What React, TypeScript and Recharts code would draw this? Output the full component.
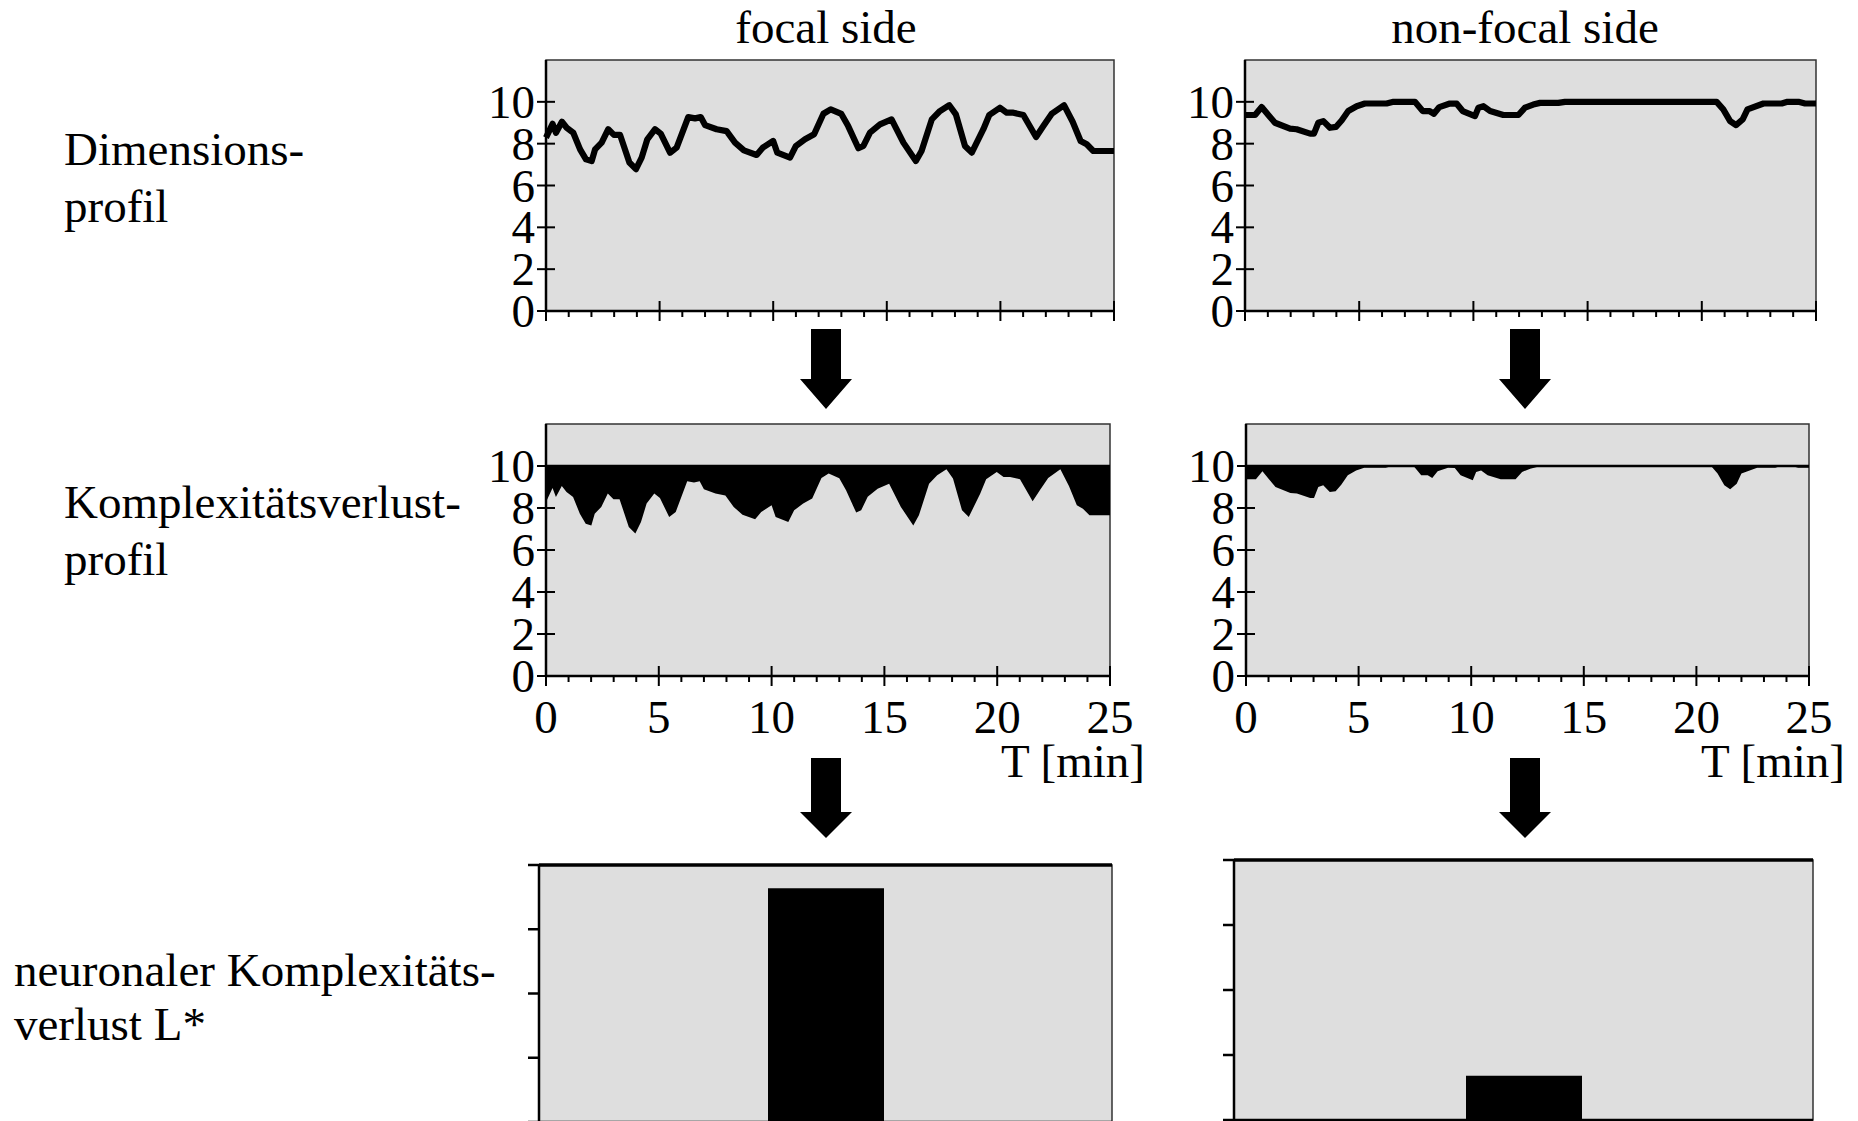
import React from 'react';
import {
  LineChart, Line, AreaChart, Area, BarChart, Bar, XAxis, YAxis,
  CartesianGrid, ReferenceLine, ReferenceArea,
} from 'recharts';

// ---------- data ----------
const focalT = [0, 0.29, 0.44, 0.70, 0.91, 1.20, 1.50, 1.76, 2.01, 2.16, 2.45, 2.74, 2.99, 3.26, 3.67, 3.96, 4.21, 4.46, 4.80, 5.05, 5.46, 5.75, 6.26, 6.56, 6.81, 7.00, 7.51, 7.95, 8.32, 8.71, 9.27, 9.54, 10.00, 10.18, 10.74, 11.00, 11.40, 11.80, 12.21, 12.53, 13.00, 13.30, 13.75, 13.97, 14.26, 14.70, 15.21, 15.73, 16.28, 16.53, 16.98, 17.34, 17.75, 18.04, 18.44, 18.74, 19.25, 19.51, 19.98, 20.28, 20.57, 21.01, 21.57, 21.89, 22.26, 22.80, 23.18, 23.53, 23.80, 24.09, 25.0];
const focalV = [8.29, 8.95, 8.52, 9.05, 8.76, 8.52, 7.73, 7.25, 7.17, 7.73, 8.05, 8.69, 8.42, 8.42, 7.10, 6.78, 7.33, 8.21, 8.69, 8.48, 7.57, 7.81, 9.27, 9.21, 9.27, 8.89, 8.69, 8.60, 8.05, 7.68, 7.46, 7.81, 8.13, 7.57, 7.33, 7.89, 8.21, 8.45, 9.43, 9.64, 9.42, 8.84, 7.78, 7.89, 8.53, 8.92, 9.16, 8.05, 7.17, 7.65, 9.16, 9.56, 9.84, 9.40, 7.89, 7.57, 8.69, 9.37, 9.72, 9.48, 9.48, 9.37, 8.32, 8.84, 9.43, 9.84, 9.05, 8.13, 7.97, 7.65, 7.65];

const nonFocalT = [0, 0.44, 0.73, 1.02, 1.31, 1.97, 2.26, 2.85, 3.02, 3.21, 3.43, 3.72, 3.98, 4.23, 4.52, 4.89, 5.25, 6.20, 6.50, 7.44, 7.78, 8.07, 8.27, 8.51, 8.97, 9.27, 9.53, 10.07, 10.22, 10.44, 10.73, 11.31, 11.97, 12.26, 12.62, 12.92, 13.72, 14.01, 20.65, 20.94, 21.24, 21.50, 21.79, 22.00, 22.70, 23.50, 23.75, 24.23, 24.52, 25.0];
const nonFocalV = [9.37, 9.37, 9.75, 9.37, 9.00, 8.72, 8.69, 8.48, 8.48, 9.00, 9.08, 8.76, 8.80, 9.11, 9.56, 9.79, 9.92, 9.92, 10, 10, 9.56, 9.56, 9.43, 9.75, 9.92, 9.91, 9.56, 9.32, 9.72, 9.79, 9.56, 9.37, 9.37, 9.72, 9.87, 9.95, 9.95, 10, 10, 9.64, 9.08, 8.89, 9.16, 9.64, 9.92, 9.92, 10, 10, 9.92, 9.92];

const maxDimension = 10;
const yTicks = [0, 2, 4, 6, 8, 10];
const minuteTicks = [0, 1, 2, 3, 4, 5, 6, 7, 8, 9, 10, 11, 12, 13, 14, 15, 16, 17, 18, 19, 20, 21, 22, 23, 24, 25];

const lossCategory = ['L*'];
const lossFocal = [3.64];
const lossNonFocal = [0.68];
const lossTicks = [0, 1, 2, 3, 4];

const columnTitles = ['focal side', 'non-focal side'];
const rowLabels = [['Dimensions-', 'profil'], ['Komplexitätsverlust-', 'profil'], ['neuronaler Komplexitäts-', 'verlust L*']];
const timeLabel = 'T [min]';

// ---------- styling ----------
const FONT = '"Liberation Serif", "Times New Roman", serif';
const FS = 47;
const PANEL_BG = '#dedede';
const BORDER = '#333333';
const YW = 100;
const MT = 10;
const MR = 50;
const XH = 80;

const profileData = (ts: number[], vs: number[]) =>
  ts.map((t, i) => ({ t, v: vs[i], range: [vs[i], maxDimension] }));

const focalData = profileData(focalT, focalV);
const nonFocalData = profileData(nonFocalT, nonFocalV);

const YTick = (props: any) => {
  const { x, y, payload } = props;
  const ax = x + 10;
  return (
    <g>
      <line x1={ax - 9} x2={ax + 9} y1={y} y2={y} stroke="#000" strokeWidth={2} />
      <text x={ax - 11} y={y + 16} textAnchor="end" fontFamily={FONT} fontSize={FS} fill="#000">
        {payload.value}
      </text>
    </g>
  );
};

const makeXTick = (showLabels: boolean) => (props: any) => {
  const { x, y, payload } = props;
  const ay = y - 12;
  const major = payload.value % 5 === 0;
  return (
    <g>
      {major ? (
        <line x1={x} x2={x} y1={ay - 10} y2={ay + 10} stroke="#000" strokeWidth={2} />
      ) : (
        <line x1={x} x2={x} y1={ay} y2={ay + 6} stroke="#000" strokeWidth={2} />
      )}
      {showLabels && major && (
        <text x={x} y={ay + 57} textAnchor="middle" fontFamily={FONT} fontSize={FS} fill="#000">
          {payload.value}
        </text>
      )}
    </g>
  );
};

const BarYTick = (props: any) => {
  const { x, y } = props;
  const ax = x + 13;
  return <line x1={ax - 11} x2={ax} y1={y} y2={y} stroke="#000" strokeWidth={2.5} />;
};

type Plot = { l: number; t: number; r: number; b: number };

const ProfileChart = ({ data, plot, mode }: { data: any[]; plot: Plot; mode: 'line' | 'loss' }) => {
  const w = YW + (plot.r - plot.l) + MR;
  const h = MT + (plot.b - plot.t) + XH;
  const common = { width: w, height: h, data, margin: { top: MT, right: MR, left: 0, bottom: 0 } };
  const inner = [
    <CartesianGrid key="g" fill={PANEL_BG} fillOpacity={1} horizontal={false} vertical={false} stroke="none" />,
    <ReferenceArea key="ra" x1={0} x2={25} y1={0} y2={12} fill="none" stroke={BORDER} strokeWidth={1.5} ifOverflow="visible" />,
    <XAxis key="x" dataKey="t" type="number" domain={[0, 25]} ticks={minuteTicks} interval={0}
      tickSize={10} tickMargin={2} tickLine={false} height={XH}
      axisLine={{ stroke: '#000', strokeWidth: 2.5 }} tick={makeXTick(mode === 'loss')} />,
    <YAxis key="y" type="number" domain={[0, 12]} ticks={yTicks} interval={0} width={YW}
      tickSize={8} tickMargin={2} tickLine={false}
      axisLine={{ stroke: '#000', strokeWidth: 2.5 }} tick={YTick} />,
  ];
  return (
    <div style={{ position: 'absolute', left: plot.l - YW, top: plot.t - MT }}>
      {mode === 'line' ? (
        <LineChart {...common}>
          {inner}
          <Line dataKey="v" type="linear" stroke="#000" strokeWidth={6.2} dot={false}
            strokeLinejoin="round" isAnimationActive={false} />
        </LineChart>
      ) : (
        <AreaChart {...common}>
          {inner}
          <Area dataKey="range" type="linear" stroke="none" fill="#000" fillOpacity={1}
            dot={false} activeDot={false} isAnimationActive={false} />
          <ReferenceLine y={maxDimension} stroke="#000" strokeWidth={2.5} />
        </AreaChart>
      )}
    </div>
  );
};

const LossChart = ({ value, plot }: { value: number; plot: Plot }) => {
  const XH2 = 20;
  const w = YW + (plot.r - plot.l) + MR;
  const h = MT + (plot.b - plot.t) + XH2;
  const data = lossCategory.map((name) => ({ name, v: value }));
  return (
    <div style={{ position: 'absolute', left: plot.l - YW, top: plot.t - MT }}>
      <BarChart width={w} height={h} data={data} margin={{ top: MT, right: MR, left: 0, bottom: 0 }}>
        <CartesianGrid fill={PANEL_BG} fillOpacity={1} horizontal={false} vertical={false} stroke="none" />
        <ReferenceArea y1={0} y2={4} fill="none" stroke={BORDER} strokeWidth={1.5} ifOverflow="visible" />
        <XAxis dataKey="name" type="category" tick={false} tickLine={false} height={XH2}
          axisLine={{ stroke: '#000', strokeWidth: 2.5 }} />
        <YAxis type="number" domain={[0, 4]} ticks={lossTicks} interval={0} width={YW}
          tickSize={11} tickMargin={2} tickLine={false}
          axisLine={{ stroke: '#000', strokeWidth: 2.5 }} tick={BarYTick} />
        <Bar dataKey="v" fill="#000" barSize={116} isAnimationActive={false} />
        <ReferenceLine y={4} stroke="#000" strokeWidth={3.5} />
      </BarChart>
    </div>
  );
};

const arrowPath = (cx: number, yTop: number, yHead: number, yTip: number) => {
  const s = 15;
  const hh = 26;
  return `M${cx - s},${yTop} L${cx + s},${yTop} L${cx + s},${yHead} L${cx + hh},${yHead} L${cx},${yTip} L${cx - hh},${yHead} L${cx - s},${yHead} Z`;
};

export default function App() {
  const textStyle = { fontFamily: FONT, fontSize: FS, fill: '#000' } as any;
  return (
    <div style={{ position: 'fixed', left: 0, top: 0, width: 1858, height: 1121, overflow: 'hidden', background: '#fff', fontFamily: FONT }}>
      <ProfileChart data={focalData} plot={{ l: 546, t: 60, r: 1114, b: 311 }} mode="line" />
      <ProfileChart data={nonFocalData} plot={{ l: 1245, t: 60, r: 1816, b: 311 }} mode="line" />
      <ProfileChart data={focalData} plot={{ l: 546, t: 424, r: 1110, b: 676 }} mode="loss" />
      <ProfileChart data={nonFocalData} plot={{ l: 1246, t: 424, r: 1809, b: 676 }} mode="loss" />
      <LossChart value={lossFocal[0]} plot={{ l: 539, t: 865, r: 1112, b: 1122 }} />
      <LossChart value={lossNonFocal[0]} plot={{ l: 1234, t: 860, r: 1813, b: 1120 }} />
      <svg width={1858} height={1121} style={{ position: 'absolute', left: 0, top: 0, pointerEvents: 'none' }}>
        <text x={826} y={43} textAnchor="middle" style={textStyle}>{columnTitles[0]}</text>
        <text x={1525} y={43} textAnchor="middle" style={textStyle}>{columnTitles[1]}</text>
        <text x={64} y={165} style={textStyle}>{rowLabels[0][0]}</text>
        <text x={64} y={222} style={textStyle}>{rowLabels[0][1]}</text>
        <text x={64} y={518} style={textStyle}>{rowLabels[1][0]}</text>
        <text x={64} y={575} style={textStyle}>{rowLabels[1][1]}</text>
        <text x={14} y={986} style={textStyle}>{rowLabels[2][0]}</text>
        <text x={14} y={1040} style={textStyle}>{rowLabels[2][1]}</text>
        <text x={1145} y={777} textAnchor="end" style={textStyle}>{timeLabel}</text>
        <text x={1845} y={777} textAnchor="end" style={textStyle}>{timeLabel}</text>
        <path d={arrowPath(826, 329, 379, 409)} fill="#000" />
        <path d={arrowPath(1525, 329, 379, 409)} fill="#000" />
        <path d={arrowPath(826, 758, 812, 838)} fill="#000" />
        <path d={arrowPath(1525, 758, 812, 838)} fill="#000" />
      </svg>
    </div>
  );
}
